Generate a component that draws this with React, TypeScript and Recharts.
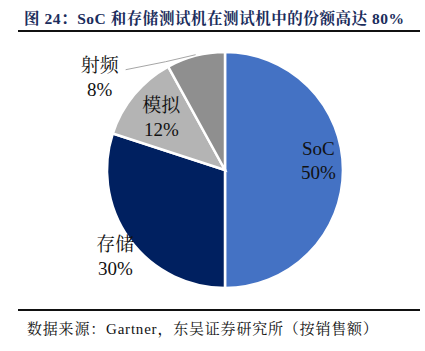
import { PieChart, Pie, Cell } from "recharts";

const names = ["SoC", "存储", "模拟", "射频"];
const shares = [50, 30, 12, 8];
const colors = ["#4472C4", "#002060", "#B4B4B4", "#8F8F8F"];

const data = names.map((name, i) => ({ name, value: shares[i] }));

// label placement: radius factor along mid-angle, plus pixel nudge
const labelPlace: Record<string, { f: number; dx: number; dy: number; line?: boolean }> = {
  SoC: { f: 0.8, dx: -1, dy: -10 },
  存储: { f: 1.18, dx: 3, dy: 5 },
  模拟: { f: 0.7, dx: 0, dy: 0 },
  射频: { f: 1.0, dx: -96, dy: 22, line: true },
};

const FONT = '"Liberation Serif", "Noto Serif CJK SC", "Noto Sans CJK SC", serif';
const RAD = Math.PI / 180;

function renderLabel(props: any) {
  const { cx, cy, midAngle, outerRadius, name, value } = props;
  const p = labelPlace[name];
  const ex = cx + Math.cos(-midAngle * RAD) * outerRadius;
  const ey = cy + Math.sin(-midAngle * RAD) * outerRadius;
  const bx = cx + Math.cos(-midAngle * RAD) * outerRadius * p.f + p.dx;
  const by = cy + Math.sin(-midAngle * RAD) * outerRadius * p.f + p.dy;
  return (
    <g>
      {p.line && (
        <polyline
          points={`${ex},${ey - 1} ${ex - 30},${ey + 6} ${bx + 26},${by - 8}`}
          fill="none"
          stroke="#A6A6A6"
          strokeWidth={1}
        />
      )}
      <text x={bx} y={by - 12} textAnchor="middle" dominantBaseline="central" fontSize={19} fill="#111" fontFamily={FONT}>
        {name}
      </text>
      <text x={bx} y={by + 12} textAnchor="middle" dominantBaseline="central" fontSize={19} fill="#111" fontFamily={FONT}>
        {value}%
      </text>
    </g>
  );
}

export default function App() {
  return (
    <div style={{ position: "absolute", left: 0, top: 0, width: 425, height: 351, background: "#fff", fontFamily: FONT }}>
      <div
        style={{
          position: "absolute",
          left: 24,
          top: 6,
          fontSize: 15.5,
          letterSpacing: 0.55,
          fontWeight: "bold",
          color: "#1B2D5C",
          whiteSpace: "nowrap",
        }}
      >
        图 24：SoC 和存储测试机在测试机中的份额高达 80%
      </div>
      <div style={{ position: "absolute", left: 18, top: 30, width: 402, height: 2, background: "#111" }} />
      <div style={{ position: "absolute", left: 0, top: 0 }}>
        <PieChart width={425} height={351} margin={{ top: 0, right: 0, bottom: 0, left: 0 }}>
          <Pie
            data={data}
            dataKey="value"
            nameKey="name"
            cx={225}
            cy={170}
            outerRadius={118}
            startAngle={90}
            endAngle={-270}
            stroke="#fff"
            strokeWidth={2.5}
            label={renderLabel}
            labelLine={false}
            isAnimationActive={false}
          >
            {data.map((d, i) => (
              <Cell key={d.name} fill={colors[i]} />
            ))}
          </Pie>
        </PieChart>
      </div>
      <div style={{ position: "absolute", left: 18, top: 309, width: 402, height: 1.5, background: "#111" }} />
      <div
        style={{
          position: "absolute",
          left: 27,
          top: 317,
          fontSize: 15,
          letterSpacing: 0.8,
          color: "#111",
          whiteSpace: "nowrap",
        }}
      >
        数据来源：Gartner，东吴证券研究所（按销售额）
      </div>
    </div>
  );
}
